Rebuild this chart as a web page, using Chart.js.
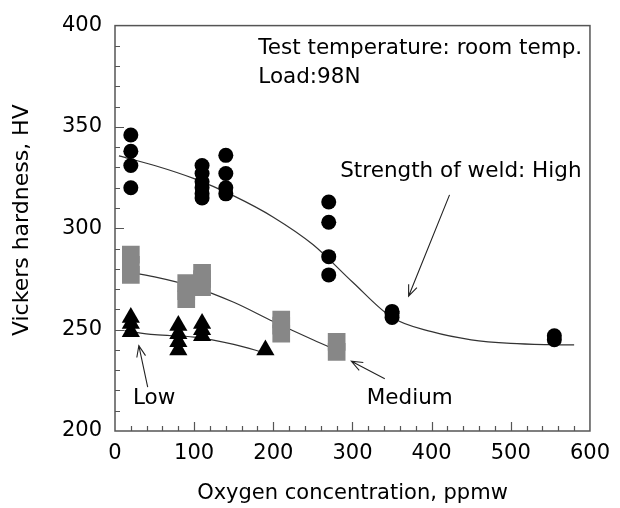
<!DOCTYPE html>
<html><head><meta charset="utf-8">
<script src="https://cdn.jsdelivr.net/npm/chart.js@4/dist/chart.umd.min.js"></script>
<style>html,body{margin:0;padding:0;background:#fff}canvas{display:block}</style>
</head><body>
<canvas id="c" width="620" height="508"></canvas>
<script>
// ---- data ----
const highOxygen   = [20,20,20,20, 110,110,110,110,110,110, 140,140,140,140, 270,270,270,270, 350,350,350, 555,555];
const highHardness = [346,338,331,320, 331,327,323,320,317,315, 336,327,320,317, 313,303,286,277, 259,258,256, 247,245];
const mediumOxygen   = [20,20,20, 90,90,90, 110,110,110, 210,210,210, 280,280];
const mediumHardness = [287,282,277, 273,269,265, 278,275,271, 255,252,248, 244,239];
const lowOxygen   = [20,20,20, 80,80,80,80, 110,110,110, 190];
const lowHardness = [256,253,249, 252,248,244,240, 253,250,247, 240];
const highFitOxygen   = [5,50,100,150,200,250,300,350,400,450,500,550,580];
const highFitHardness = [335.7,331,324.5,316,305.5,292,273.5,256,249,245,243.2,242.6,242.5];
const mediumFitOxygen   = [10,50,100,150,200,250,288];
const mediumFitHardness = [278.7,276,271,263.5,254,245,238.5];
const lowFitOxygen   = [12,50,100,150,190];
const lowFitHardness = [249.5,247.5,246.3,242.7,238.5];
const xTickValues = [0,100,200,300,400,500,600];
const yTickValues = [200,250,300,350,400];
const xTitle = 'Oxygen concentration, ppmw';
const yTitle = 'Vickers hardness, HV';
const notes = [
  {text:'Test temperature: room temp.', x:181, y:385.8},
  {text:'Load:98N', x:181, y:371.6},
  {text:'Strength of weld: High', x:284.5, y:325.2},
  {text:'Low', x:22.7, y:213.5},
  {text:'Medium', x:318, y:213.5}
];
const arrows = [
  {from:[422.6,316.5], to:[370.9,266.5]},
  {from:[41.3,221.7], to:[30.1,242.1]},
  {from:[340.8,225.8], to:[298.6,234.4]}
];

const pts = (xs, ys) => xs.map((x, i) => ({x, y: ys[i]}));
const FONT = 'DejaVu Sans';
Chart.defaults.font.family = FONT;
Chart.defaults.color = '#000';

const framePlugin = {
  id: 'frame',
  afterDatasetsDraw(chart) {
    const {ctx, chartArea: a, scales: {x, y}} = chart;
    ctx.save();
    ctx.strokeStyle = '#555';
    ctx.lineWidth = 1.5;
    ctx.strokeRect(a.left, a.top, a.right - a.left, a.bottom - a.top);
    ctx.lineWidth = 1.2;
    ctx.beginPath();
    for (let v = 210; v < 400; v += 10) {
      const py = Math.round(y.getPixelForValue(v)) + 0.5;
      const len = v % 50 === 0 ? 9 : 5;
      ctx.moveTo(a.left, py); ctx.lineTo(a.left + len, py);
    }
    for (let v = 20; v < 600; v += 20) {
      const px = Math.round(x.getPixelForValue(v)) + 0.5;
      const len = v % 100 === 0 ? 9 : 5;
      ctx.moveTo(px, a.bottom); ctx.lineTo(px, a.bottom - len);
    }
    ctx.stroke();
    // y axis title
    ctx.fillStyle = '#000';
    ctx.save();
    ctx.translate(22.5, y.getPixelForValue(304));
    ctx.rotate(-Math.PI / 2);
    ctx.font = '22px "' + FONT + '"';
    ctx.textAlign = 'center';
    ctx.textBaseline = 'middle';
    ctx.fillText(yTitle, 0, 0);
    ctx.restore();
    // annotations
    ctx.font = '21.5px "' + FONT + '"';
    ctx.textBaseline = 'alphabetic';
    ctx.textAlign = 'left';
    notes.forEach(n => ctx.fillText(n.text, x.getPixelForValue(n.x), y.getPixelForValue(n.y)));
    ctx.strokeStyle = '#222';
    ctx.lineWidth = 1.1;
    arrows.forEach(ar => {
      const x1 = x.getPixelForValue(ar.from[0]), y1 = y.getPixelForValue(ar.from[1]);
      const x2 = x.getPixelForValue(ar.to[0]), y2 = y.getPixelForValue(ar.to[1]);
      const ang = Math.atan2(y1 - y2, x1 - x2);
      const L = 12, w = 0.38;
      ctx.beginPath();
      ctx.moveTo(x1, y1); ctx.lineTo(x2, y2);
      ctx.moveTo(x2 + L * Math.cos(ang + w), y2 + L * Math.sin(ang + w));
      ctx.lineTo(x2, y2);
      ctx.lineTo(x2 + L * Math.cos(ang - w), y2 + L * Math.sin(ang - w));
      ctx.stroke();
    });
    ctx.restore();
  }
};

const lineDs = (data) => ({
  data, showLine: true, pointRadius: 0, borderColor: '#333', borderWidth: 1.2,
  cubicInterpolationMode: 'monotone', fill: false, order: 5
});

new Chart(document.getElementById('c'), {
  type: 'scatter',
  data: {
    datasets: [
      lineDs(pts(highFitOxygen, highFitHardness)),
      lineDs(pts(mediumFitOxygen, mediumFitHardness)),
      lineDs(pts(lowFitOxygen, lowFitHardness)),
      {label:'High', data: pts(highOxygen, highHardness), pointStyle:'circle', pointRadius:7.5,
       backgroundColor:'#000', borderColor:'#000', borderWidth:0, order:1},
      {label:'Medium', data: pts(mediumOxygen, mediumHardness), pointStyle:'rect', pointRadius:12.5,
       backgroundColor:'#878787', borderColor:'#878787', borderWidth:0, order:2},
      {label:'Low', data: pts(lowOxygen, lowHardness), pointStyle:'triangle', pointRadius:10.5,
       backgroundColor:'#000', borderColor:'#000', borderWidth:0, order:1}
    ]
  },
  options: {
    responsive: false, animation: false, devicePixelRatio: 1,
    layout: {padding: {top: 22, right: 21, left: 0, bottom: 0}},
    plugins: {legend: {display: false}, tooltip: {enabled: false}},
    scales: {
      x: {
        type: 'linear', min: 0, max: 600,
        afterBuildTicks: s => { s.ticks = xTickValues.map(v => ({value: v})); },
        ticks: {font: {size: 21}, color: '#000', padding: 10},
        grid: {display: false, drawTicks: false},
        border: {display: false},
        title: {display: true, text: xTitle, font: {size: 21}, color: '#000', padding: {top: 0, bottom: 2}},
        afterFit: s => { s.height = 77; }
      },
      y: {
        type: 'linear', min: 200, max: 400,
        afterBuildTicks: s => { s.ticks = yTickValues.map(v => ({value: v})); },
        ticks: {font: {size: 21}, color: '#000', padding: 13},
        grid: {display: false, drawTicks: false},
        border: {display: false},
        title: {display: false, text: yTitle},
        afterFit: s => { s.width = 115; }
      }
    }
  },
  plugins: [framePlugin]
});
</script>
</body></html>
